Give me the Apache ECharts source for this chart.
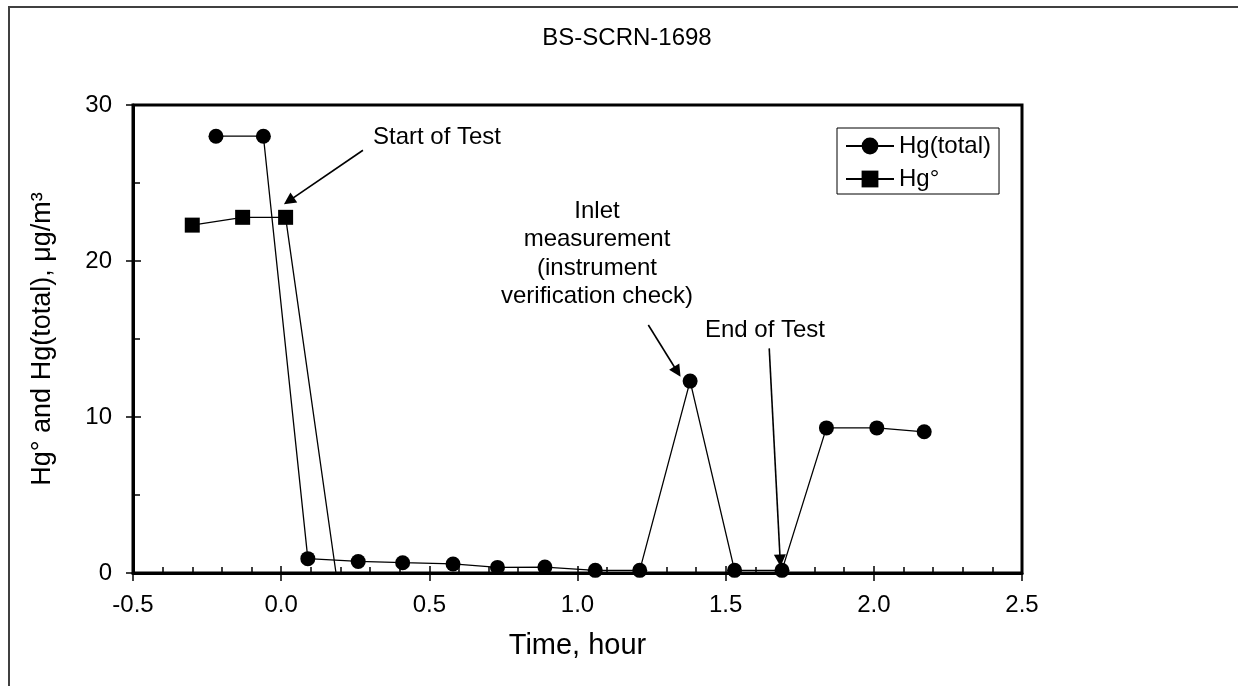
<!DOCTYPE html>
<html>
<head>
<meta charset="utf-8">
<title>BS-SCRN-1698</title>
<script src="https://cdn.jsdelivr.net/npm/echarts@6/dist/echarts.min.js"></script>
<style>
  html, body { margin: 0; padding: 0; background: #fff; }
  #chart { width: 1238px; height: 686px; }
</style>
</head>
<body>
<div id="chart"></div>
<script>
// Hg(total), circles
const timeTotal = [-0.22, -0.06, 0.09, 0.26, 0.41, 0.58, 0.73, 0.89, 1.06, 1.21, 1.38, 1.53, 1.69, 1.84, 2.01, 2.17];
const hgTotal = [28.0, 28.0, 0.92, 0.74, 0.66, 0.58, 0.36, 0.38, 0.17, 0.17, 12.3, 0.17, 0.17, 9.3, 9.3, 9.05];

// Hg°, squares (readings after the start of test sit on zero, no marker shown)
const timeElem = [-0.30, -0.13, 0.015, 0.185, 0.345, 0.50, 0.66, 0.82, 0.98, 1.14, 1.30, 1.46, 1.62, 1.78, 1.94, 2.10];
const hgElem = [22.3, 22.8, 22.8, 0, 0, 0, 0, 0, 0, 0, 0, 0, 0, 0, 0, 0];

const xTicks = { min: -0.5, max: 2.5, step: 0.5 };
const yTicks = { min: 0, max: 30, step: 10 };

// annotation arrows, [from, to] in data units
const arrows = [
  [[0.276, 27.1], [0.026, 23.85]],
  [[1.239, 15.9], [1.337, 12.9]],
  [[1.647, 14.4], [1.684, 0.8]]
];

const FONT = 'Liberation Sans, Arial, sans-serif';

const chart = echarts.init(document.getElementById('chart'));

function xAxisBase() {
  return {
    type: 'value',
    position: 'bottom',
    min: xTicks.min,
    max: xTicks.max,
    interval: xTicks.step,
    splitLine: { show: false }
  };
}
function yAxisBase() {
  return {
    type: 'value',
    position: 'left',
    min: yTicks.min,
    max: yTicks.max,
    interval: yTicks.step,
    splitLine: { show: false }
  };
}

const option = {
  backgroundColor: '#fff',
  animation: false,
  title: {
    text: 'BS-SCRN-1698',
    left: 622,
    textAlign: 'center',
    top: 21,
    textStyle: { fontFamily: FONT, fontSize: 24, fontWeight: 'normal', color: '#000' }
  },
  legend: {
    orient: 'vertical',
    left: 837,
    top: 128,
    padding: [6, 8, 3, 8],
    itemGap: 9,
    itemWidth: 48,
    itemHeight: 21,
    borderColor: '#000',
    borderWidth: 1,
    backgroundColor: '#fff',
    textStyle: { fontFamily: FONT, fontSize: 24, color: '#000' },
    data: ['Hg(total)', 'Hg°']
  },
  grid: {
    left: 133,
    right: 216,
    top: 105,
    bottom: 113,
    show: true,
    borderColor: '#000',
    borderWidth: 3,
    backgroundColor: 'transparent'
  },
  xAxis: [
    Object.assign(xAxisBase(), {
      name: 'Time, hour',
      nameLocation: 'middle',
      nameGap: 58,
      nameTextStyle: { fontFamily: FONT, fontSize: 29, color: '#000' },
      axisLine: { onZero: false, lineStyle: { color: '#000', width: 3 } },
      axisTick: { inside: true, length: 7, lineStyle: { color: '#000', width: 1.5 } },
      minorTick: { show: true, splitNumber: 5, length: 6, lineStyle: { color: '#000', width: 1.5 } },
      axisLabel: {
        margin: 20,
        fontFamily: FONT, fontSize: 24, color: '#000',
        formatter: v => v.toFixed(1)
      }
    }),
    Object.assign(xAxisBase(), {
      axisLine: { show: false, onZero: false },
      axisLabel: { show: false },
      axisTick: { inside: false, length: 8, lineStyle: { color: '#000', width: 1.5 } }
    })
  ],
  yAxis: [
    Object.assign(yAxisBase(), {
      name: 'Hg° and Hg(total), μg/m³',
      nameLocation: 'middle',
      nameGap: 77,
      nameTextStyle: { fontFamily: FONT, fontSize: 27, color: '#000' },
      axisLine: { onZero: false, lineStyle: { color: '#000', width: 3 } },
      axisTick: { inside: true, length: 8, lineStyle: { color: '#000', width: 1.5 } },
      minorTick: { show: true, splitNumber: 2, length: 7, lineStyle: { color: '#000', width: 1.5 } },
      axisLabel: { margin: 21, fontFamily: FONT, fontSize: 24, color: '#000' }
    }),
    Object.assign(yAxisBase(), {
      axisLine: { show: false, onZero: false },
      axisLabel: { show: false },
      axisTick: { inside: false, length: 7, lineStyle: { color: '#000', width: 1.5 } }
    })
  ],
  series: [
    {
      name: 'Hg(total)',
      type: 'line',
      clip: false,
      symbol: 'circle',
      symbolSize: 15,
      itemStyle: { color: '#000' },
      lineStyle: { color: '#000', width: 1.3 },
      data: timeTotal.map((t, i) => [t, hgTotal[i]]),
      markLine: {
        silent: true,
        symbol: ['none', 'triangle'],
        symbolSize: 12,
        label: { show: false },
        lineStyle: { color: '#000', width: 1.6, type: 'solid' },
        itemStyle: { color: '#000' },
        data: arrows.map(a => [{ coord: a[0] }, { coord: a[1] }])
      }
    },
    {
      name: 'Hg°',
      type: 'line',
      clip: false,
      symbol: 'rect',
      symbolSize: 15,
      itemStyle: { color: '#000' },
      lineStyle: { color: '#000', width: 1.3 },
      data: timeElem.map((t, i) => ({
        value: [t, hgElem[i]],
        symbol: hgElem[i] > 0 ? 'rect' : 'none'
      }))
    }
  ],
  graphic: [
    {
      type: 'rect',
      silent: true,
      shape: { x: 9, y: 7, width: 1400, height: 1000 },
      style: { fill: 'none', stroke: '#404040', lineWidth: 2 }
    },
    {
      type: 'text',
      x: 437, y: 137,
      style: { text: 'Start of Test', font: '24px ' + FONT, fill: '#000', textAlign: 'center', textVerticalAlign: 'middle' }
    },
    {
      type: 'text',
      x: 597, y: 197,
      style: {
        text: 'Inlet\nmeasurement\n(instrument\nverification check)',
        font: '24px ' + FONT, lineHeight: 28.5, fill: '#000',
        textAlign: 'center', textVerticalAlign: 'top'
      }
    },
    {
      type: 'text',
      x: 765, y: 330,
      style: { text: 'End of Test', font: '24px ' + FONT, fill: '#000', textAlign: 'center', textVerticalAlign: 'middle' }
    }
  ]
};

chart.setOption(option);
</script>
</body>
</html>
